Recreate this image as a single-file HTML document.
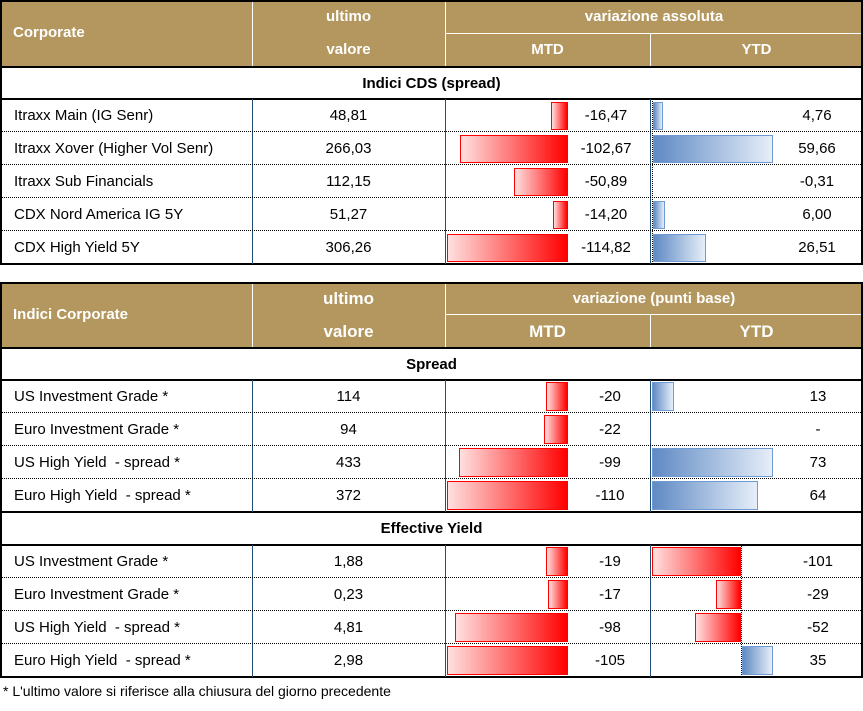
<!DOCTYPE html>
<html><head><meta charset="utf-8"><style>
*{margin:0;padding:0;box-sizing:border-box}
body{width:863px;height:711px;background:#fff;position:relative;overflow:hidden;font-family:"Liberation Sans","DejaVu Sans",sans-serif;color:#000}
div{position:absolute}
.hd{background:#b3975e;color:#fff;font-weight:bold}
.t{font-size:15px;line-height:33px;white-space:nowrap}
.c{text-align:center}
.b{font-weight:bold}
.vl{width:1px;background:#1f4e79}
.hl{height:1px;background:#000}
.dl{height:0;border-top:1px dotted #000}
.r{background:linear-gradient(to right,#ffe0e0,#ff0000);border:1.5px solid #ff0000}
.bl{background:linear-gradient(to right,#5f8ac4,#e6eef8);border:1.5px solid #6f9bd2}
</style></head><body>

<!-- TABLE 1 -->
<div class="hd" style="left:0;top:0;width:863px;height:66px"></div>
<div class="vl" style="left:252px;top:0;height:66px;background:#fff"></div>
<div class="vl" style="left:445px;top:0;height:66px;background:#fff"></div>
<div class="hl" style="left:445px;top:33px;width:418px;background:#fff"></div>
<div class="vl" style="left:650px;top:33px;height:33px;background:#fff"></div>
<div class="t hd" style="left:13px;top:16px;background:none">Corporate</div>
<div class="t hd c" style="left:252px;top:0;width:193px;background:none">ultimo</div>
<div class="t hd c" style="left:252px;top:33px;width:193px;background:none">valore</div>
<div class="t hd c" style="left:445px;top:0;width:418px;background:none">variazione assoluta</div>
<div class="t hd c" style="left:445px;top:33px;width:205px;background:none">MTD</div>
<div class="t hd c" style="left:650px;top:33px;width:213px;background:none">YTD</div>
<div style="left:0;top:0;width:863px;height:265px;border:2px solid #000"></div>
<div class="hl" style="left:0;top:66px;width:863px;height:2px"></div>
<div class="t c b" style="left:0;top:67px;width:863px">Indici CDS (spread)</div>
<div class="hl" style="left:0;top:98px;width:863px;height:2px"></div>
<div class="vl" style="left:252px;top:99px;height:165px"></div>
<div class="vl" style="left:445px;top:99px;height:165px"></div>
<div class="vl" style="left:650px;top:99px;height:165px"></div>
<div class="dl" style="left:0;top:131px;width:863px"></div>
<div class="dl" style="left:0;top:164px;width:863px"></div>
<div class="dl" style="left:0;top:197px;width:863px"></div>
<div class="dl" style="left:0;top:230px;width:863px"></div>
<div style="left:652px;top:99px;height:165px;border-left:1px dotted #000"></div>

<div class="r" style="left:551px;top:102px;width:17px;height:28px"></div>
<div class="r" style="left:460px;top:135px;width:108px;height:28px"></div>
<div class="r" style="left:514px;top:168px;width:54px;height:28px"></div>
<div class="r" style="left:553px;top:201px;width:15px;height:28px"></div>
<div class="r" style="left:447px;top:234px;width:121px;height:28px"></div>
<div class="bl" style="left:653px;top:102px;width:10px;height:28px"></div>
<div class="bl" style="left:653px;top:135px;width:120px;height:28px"></div>
<div class="bl" style="left:653px;top:201px;width:12px;height:28px"></div>
<div class="bl" style="left:653px;top:234px;width:53px;height:28px"></div>

<div class="t" style="left:14px;top:99px">Itraxx Main (IG Senr)</div>
<div class="t" style="left:14px;top:132px">Itraxx Xover (Higher Vol Senr)</div>
<div class="t" style="left:14px;top:165px">Itraxx Sub Financials</div>
<div class="t" style="left:14px;top:198px">CDX Nord America IG 5Y</div>
<div class="t" style="left:14px;top:231px">CDX High Yield 5Y</div>
<div class="t c" style="left:252px;top:99px;width:193px">48,81</div>
<div class="t c" style="left:252px;top:132px;width:193px">266,03</div>
<div class="t c" style="left:252px;top:165px;width:193px">112,15</div>
<div class="t c" style="left:252px;top:198px;width:193px">51,27</div>
<div class="t c" style="left:252px;top:231px;width:193px">306,26</div>
<div class="t c" style="left:556px;top:99px;width:100px">-16,47</div>
<div class="t c" style="left:556px;top:132px;width:100px">-102,67</div>
<div class="t c" style="left:556px;top:165px;width:100px">-50,89</div>
<div class="t c" style="left:556px;top:198px;width:100px">-14,20</div>
<div class="t c" style="left:556px;top:231px;width:100px">-114,82</div>
<div class="t c" style="left:767px;top:99px;width:100px">4,76</div>
<div class="t c" style="left:767px;top:132px;width:100px">59,66</div>
<div class="t c" style="left:767px;top:165px;width:100px">-0,31</div>
<div class="t c" style="left:767px;top:198px;width:100px">6,00</div>
<div class="t c" style="left:767px;top:231px;width:100px">26,51</div>

<!-- TABLE 2 -->
<div class="hd" style="left:0;top:282px;width:863px;height:66px"></div>
<div class="vl" style="left:252px;top:282px;height:66px;background:#fff"></div>
<div class="vl" style="left:445px;top:282px;height:66px;background:#fff"></div>
<div class="hl" style="left:445px;top:314px;width:418px;background:#fff"></div>
<div class="vl" style="left:650px;top:314px;height:34px;background:#fff"></div>
<div class="t hd" style="left:13px;top:298px;background:none">Indici Corporate</div>
<div class="t hd c" style="left:252px;top:282px;width:193px;background:none;font-size:17px">ultimo</div>
<div class="t hd c" style="left:252px;top:315px;width:193px;background:none;font-size:17px">valore</div>
<div class="t hd c" style="left:445px;top:282px;width:418px;background:none">variazione (punti base)</div>
<div class="t hd c" style="left:445px;top:315px;width:205px;background:none;font-size:17px">MTD</div>
<div class="t hd c" style="left:650px;top:315px;width:213px;background:none;font-size:17px">YTD</div>
<div style="left:0;top:282px;width:863px;height:396px;border:2px solid #000"></div>
<div class="hl" style="left:0;top:347px;width:863px;height:2px"></div>
<div class="t c b" style="left:0;top:348px;width:863px">Spread</div>
<div class="hl" style="left:0;top:379px;width:863px;height:2px"></div>
<div class="hl" style="left:0;top:511px;width:863px;height:2px"></div>
<div class="t c b" style="left:0;top:512px;width:863px">Effective Yield</div>
<div class="hl" style="left:0;top:544px;width:863px;height:2px"></div>
<div class="vl" style="left:252px;top:380px;height:132px"></div>
<div class="vl" style="left:445px;top:380px;height:132px"></div>
<div class="vl" style="left:650px;top:380px;height:132px"></div>
<div class="vl" style="left:252px;top:545px;height:132px"></div>
<div class="vl" style="left:445px;top:545px;height:132px"></div>
<div class="vl" style="left:650px;top:545px;height:132px"></div>
<div style="left:741px;top:545px;height:132px;border-left:1px dotted #000"></div>
<div class="dl" style="left:0;top:412px;width:863px"></div>
<div class="dl" style="left:0;top:445px;width:863px"></div>
<div class="dl" style="left:0;top:478px;width:863px"></div>
<div class="dl" style="left:0;top:577px;width:863px"></div>
<div class="dl" style="left:0;top:610px;width:863px"></div>
<div class="dl" style="left:0;top:643px;width:863px"></div>

<div class="r" style="left:546px;top:382px;width:22px;height:29px"></div>
<div class="r" style="left:544px;top:415px;width:24px;height:29px"></div>
<div class="r" style="left:459px;top:448px;width:109px;height:29px"></div>
<div class="r" style="left:447px;top:481px;width:121px;height:29px"></div>
<div class="bl" style="left:652px;top:382px;width:22px;height:29px"></div>
<div class="bl" style="left:652px;top:448px;width:121px;height:29px"></div>
<div class="bl" style="left:652px;top:481px;width:106px;height:29px"></div>
<div class="r" style="left:546px;top:547px;width:22px;height:29px"></div>
<div class="r" style="left:548px;top:580px;width:20px;height:29px"></div>
<div class="r" style="left:455px;top:613px;width:113px;height:29px"></div>
<div class="r" style="left:447px;top:646px;width:121px;height:29px"></div>
<div class="r" style="left:652px;top:547px;width:89px;height:29px"></div>
<div class="r" style="left:716px;top:580px;width:25px;height:29px"></div>
<div class="r" style="left:695px;top:613px;width:46px;height:29px"></div>
<div class="bl" style="left:742px;top:646px;width:31px;height:29px"></div>

<div class="t" style="left:14px;top:380px">US Investment Grade *</div>
<div class="t" style="left:14px;top:413px">Euro Investment Grade *</div>
<div class="t" style="left:14px;top:446px">US High Yield&nbsp; - spread *</div>
<div class="t" style="left:14px;top:479px">Euro High Yield&nbsp; - spread *</div>
<div class="t" style="left:14px;top:545px">US Investment Grade *</div>
<div class="t" style="left:14px;top:578px">Euro Investment Grade *</div>
<div class="t" style="left:14px;top:611px">US High Yield&nbsp; - spread *</div>
<div class="t" style="left:14px;top:644px">Euro High Yield&nbsp; - spread *</div>
<div class="t c" style="left:252px;top:380px;width:193px">114</div>
<div class="t c" style="left:252px;top:413px;width:193px">94</div>
<div class="t c" style="left:252px;top:446px;width:193px">433</div>
<div class="t c" style="left:252px;top:479px;width:193px">372</div>
<div class="t c" style="left:252px;top:545px;width:193px">1,88</div>
<div class="t c" style="left:252px;top:578px;width:193px">0,23</div>
<div class="t c" style="left:252px;top:611px;width:193px">4,81</div>
<div class="t c" style="left:252px;top:644px;width:193px">2,98</div>
<div class="t c" style="left:560px;top:380px;width:100px">-20</div>
<div class="t c" style="left:560px;top:413px;width:100px">-22</div>
<div class="t c" style="left:560px;top:446px;width:100px">-99</div>
<div class="t c" style="left:560px;top:479px;width:100px">-110</div>
<div class="t c" style="left:560px;top:545px;width:100px">-19</div>
<div class="t c" style="left:560px;top:578px;width:100px">-17</div>
<div class="t c" style="left:560px;top:611px;width:100px">-98</div>
<div class="t c" style="left:560px;top:644px;width:100px">-105</div>
<div class="t c" style="left:768px;top:380px;width:100px">13</div>
<div class="t c" style="left:768px;top:413px;width:100px">-</div>
<div class="t c" style="left:768px;top:446px;width:100px">73</div>
<div class="t c" style="left:768px;top:479px;width:100px">64</div>
<div class="t c" style="left:768px;top:545px;width:100px">-101</div>
<div class="t c" style="left:768px;top:578px;width:100px">-29</div>
<div class="t c" style="left:768px;top:611px;width:100px">-52</div>
<div class="t c" style="left:768px;top:644px;width:100px">35</div>

<div class="t" style="left:3px;top:675px;font-size:14px">* L'ultimo valore si riferisce alla chiusura del giorno precedente</div>
</body></html>
